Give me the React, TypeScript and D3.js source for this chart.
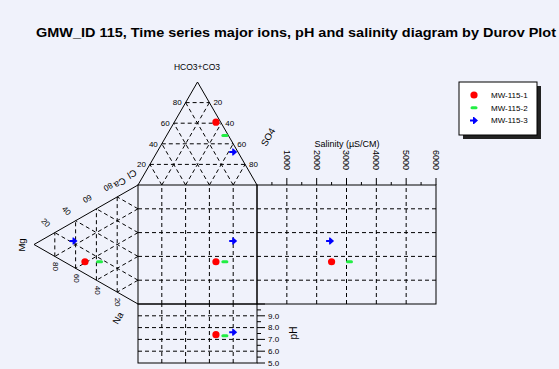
import { useEffect, useRef } from "react";
import * as d3 from "d3";

// samples (one per well / date)
const samples = ["MW-115-1", "MW-115-2", "MW-115-3"];
const colors = ["#ff0000", "#22ee44", "#0000ff"];

// anion percentages (meq %)
const hco3 = [61, 48, 32];
const so4 = [35, 49, 64];
const cl = [4, 3, 4];

// cation percentages (meq %)
const mg = [51, 37, 62];
const ca = [10, 17, 22];
const na = [39, 46, 16];

const ph = [7.4, 7.3, 7.6];
const salinity = [2500, 3100, 2450];

const gridPct = [20, 40, 60, 80];
const salTicks = [1000, 2000, 3000, 4000, 5000, 6000];
const phTicks = [5, 6, 7, 8, 9];

const W = 559, H = 369;
const FONT = "'Liberation Sans', Arial, sans-serif";

export default function App() {
  const ref = useRef<SVGSVGElement>(null);

  useEffect(() => {
    const el = ref.current;
    if (!el) return;
    const svg = d3.select(el);
    svg.selectAll("*").remove();

    svg.append("rect").attr("width", W).attr("height", H).attr("fill", "#f0f2fb");

    // scales
    const sqX = d3.scaleLinear().domain([0, 100]).range([138, 257]);
    const sqY = d3.scaleLinear().domain([0, 100]).range([304, 185]);
    const triY = d3.scaleLinear().domain([0, 100]).range([185, 82]);
    const leftX = d3.scaleLinear().domain([0, 100]).range([138, 34]);
    const salX = d3.scaleLinear().domain([0, 6000]).range([257, 436]);
    const phY = d3.scaleLinear().domain([5, 10]).range([363, 304]);

    const topPt = (h: number, s: number): [number, number] => [sqX(s + h / 2), triY(h)];
    const leftPt = (m: number, c: number): [number, number] => [leftX(m), sqY(c + m / 2)];

    const dash = svg.append("g").attr("stroke", "#000").attr("stroke-width", 1)
      .attr("stroke-dasharray", "4,3").attr("fill", "none");
    const line = (g: any, a: [number, number], b: [number, number]) =>
      g.append("line").attr("x1", a[0]).attr("y1", a[1]).attr("x2", b[0]).attr("y2", b[1]);

    // ternary grids
    gridPct.forEach((k) => {
      line(dash, topPt(k, 0), topPt(k, 100 - k));
      line(dash, topPt(0, k), topPt(100 - k, k));
      line(dash, topPt(0, 100 - k), topPt(100 - k, 0));
      line(dash, leftPt(k, 0), leftPt(k, 100 - k));
      line(dash, leftPt(0, k), leftPt(100 - k, k));
      line(dash, leftPt(0, 100 - k), leftPt(100 - k, 0));
      // square grid + pH box verticals
      line(dash, [sqX(k), sqY(0)], [sqX(k), sqY(100)]);
      line(dash, [sqX(k), phY(5)], [sqX(k), phY(10)]);
      // square horizontals continue through salinity box
      line(dash, [sqX(0), sqY(k)], [salX(6000), sqY(k)]);
    });
    salTicks.slice(0, -1).forEach((v) => line(dash, [salX(v), sqY(0)], [salX(v), sqY(100)]));
    phTicks.slice(1).forEach((v) => line(dash, [sqX(0), phY(v)], [sqX(100), phY(v)]));

    // outlines
    const solid = svg.append("g").attr("stroke", "#000").attr("stroke-width", 1).attr("fill", "none");
    solid.append("path").attr("d", d3.line()([topPt(0, 0), topPt(100, 0), topPt(0, 100)]));
    solid.append("path").attr("d", d3.line()([leftPt(0, 100), leftPt(100, 0), leftPt(0, 0)]));
    solid.append("rect").attr("x", sqX(0)).attr("y", sqY(100)).attr("width", sqX(100) - sqX(0)).attr("height", sqY(0) - sqY(100));
    solid.append("rect").attr("x", salX(0)).attr("y", sqY(100)).attr("width", salX(6000) - salX(0)).attr("height", sqY(0) - sqY(100));
    solid.append("rect").attr("x", sqX(0)).attr("y", phY(10)).attr("width", sqX(100) - sqX(0)).attr("height", phY(5) - phY(10));

    // salinity ticks
    d3.range(500, 6001, 500).forEach((v) => {
      const major = v % 1000 === 0;
      line(solid, [salX(v), sqY(100)], [salX(v), sqY(100) - (major ? 7 : 3)]);
    });
    // pH ticks
    d3.range(5, 10.01, 0.5).forEach((v) => {
      const major = v % 1 === 0;
      line(solid, [sqX(100), phY(v)], [sqX(100) + (major ? 8 : 4), phY(v)]);
    });

    const txt = (x: number, y: number, s: string, size = 8, anchor = "middle", rot = 0) =>
      svg.append("text").attr("transform", `translate(${x},${y}) rotate(${rot})`)
        .attr("text-anchor", anchor).attr("dy", "0.35em").attr("font-family", FONT)
        .attr("font-size", size).attr("fill", "#000").text(s);

    // title
    svg.append("text").attr("x", 36).attr("y", 37).attr("font-family", FONT).attr("font-weight", "bold")
      .attr("font-size", 13).attr("textLength", 520).attr("lengthAdjust", "spacingAndGlyphs").attr("fill", "#000")
      .text("GMW_ID 115, Time series major ions, pH and salinity diagram by Durov Plot");

    // tri labels
    gridPct.forEach((k, i) => {
      const [lx, ly] = topPt(k, 0);
      txt(lx - 4, ly, String(k), 8, "end");
      const [rx, ry] = topPt(100 - k, k);
      txt(rx + 4, ry, String(k), 8, "start");
      const [ux, uy] = leftPt(100 - k, k);
      txt(ux - 9, uy - 10, String(k), 8, "middle", i < 2 ? 45 : 150);
      const [bx, by] = leftPt(100 - k, 0);
      txt(bx + 1, by + 10, String(100 - k), 8, "middle", 90);
    });
    txt(197, 67, "HCO3+CO3", 8.5);
    txt(268, 137, "SO4", 9.5, "middle", -60);
    txt(132, 174, "Cl", 9.5, "middle", 150);
    txt(120, 183, "Ca", 9.5, "middle", 150);
    txt(118, 318, "Na", 9.5, "middle", -60);
    txt(22, 245, "Mg", 9.5, "middle", -90);

    txt(347, 144, "Salinity (µS/CM)", 9);
    salTicks.forEach((v) => txt(salX(v), 150, String(v), 9, "start", 90));
    phTicks.forEach((v) => txt(268, phY(v), v.toFixed(1), 8, "start"));
    txt(293, 333, "pH", 10, "middle", -90);

    // markers
    const arrow = "M-4,-1H-1V-3.5H0L4,0L0,3.5H-1V1H-4Z";
    const mark = (i: number, x: number, y: number) => {
      if (i === 0) svg.append("circle").attr("cx", x).attr("cy", y).attr("r", 3.6).attr("fill", colors[i]);
      else if (i === 1) svg.append("rect").attr("x", x - 3.5).attr("y", y - 1.5).attr("width", 7).attr("height", 3).attr("rx", 1.5).attr("fill", colors[i]);
      else svg.append("path").attr("d", arrow).attr("transform", `translate(${x},${y})`).attr("fill", colors[i]);
    };
    samples.forEach((_, i) => {
      const [tx, ty] = topPt(hco3[i], so4[i]);
      const [lx, ly] = leftPt(mg[i], ca[i]);
      mark(i, tx, ty);
      mark(i, lx, ly);
      mark(i, tx, ly);
      mark(i, salX(salinity[i]), ly);
      mark(i, tx, phY(ph[i]));
    });

    // legend
    const lg = svg.append("g").attr("transform", "translate(459,82)");
    lg.append("rect").attr("x", 4).attr("y", 4).attr("width", 78).attr("height", 53).attr("fill", "#222");
    lg.append("rect").attr("width", 78).attr("height", 53).attr("fill", "#fff").attr("stroke", "#000");
    samples.forEach((s, i) => {
      const y = 13 + i * 12.7;
      mark(i, 459 + 15, 82 + y);
      lg.append("text").attr("x", 32).attr("y", y).attr("dy", "0.35em").attr("font-family", FONT)
        .attr("font-size", 8).attr("fill", "#000").text(s);
    });
  }, []);

  return <svg ref={ref} width={W} height={H} style={{ position: "absolute", left: 0, top: 0 }} />;
}
